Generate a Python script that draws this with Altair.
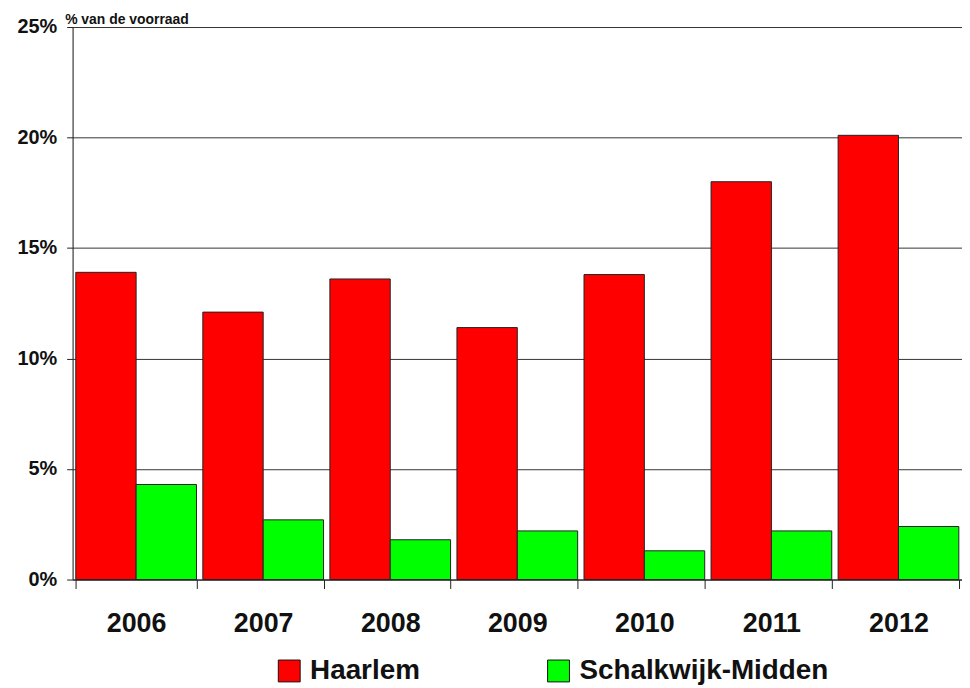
import altair as alt
import pandas as pd

years = ["2006", "2007", "2008", "2009", "2010", "2011", "2012"]
haarlem = [13.9, 12.1, 13.6, 11.4, 13.8, 18.0, 20.1]
schalkwijk = [4.3, 2.7, 1.8, 2.2, 1.3, 2.2, 2.4]
series = ["Haarlem", "Schalkwijk-Midden"]
colors = ["#FF0000", "#00FF00"]
y_ticks = [0, 5, 10, 15, 20, 25]

rows = []
for i, y in enumerate(years):
    rows.append({"jaar": y, "reeks": series[0], "waarde": haarlem[i]})
    rows.append({"jaar": y, "reeks": series[1], "waarde": schalkwijk[i]})
df = pd.DataFrame(rows)

FONT = "Liberation Sans"

chart = alt.Chart(df).mark_bar(stroke="#222222", strokeWidth=1).encode(
    x=alt.X(
        "jaar:N",
        sort=years,
        scale=alt.Scale(paddingInner=0.05, paddingOuter=0.025),
        axis=alt.Axis(
            title=None,
            labelAngle=0,
            labelFont=FONT,
            labelFontSize=27,
            labelFontWeight="bold",
            labelColor="#111111",
            labelPadding=22,
            tickBand="extent",
            tickSize=9,
            tickColor="#222222",
            domainColor="#222222",
            grid=False,
        ),
    ),
    xOffset=alt.XOffset("reeks:N", sort=series),
    y=alt.Y(
        "waarde:Q",
        scale=alt.Scale(domain=[0, 25], nice=False),
        axis=alt.Axis(
            values=y_ticks,
            labelExpr="datum.value + '%'",
            labelFont=FONT,
            labelFontSize=20,
            labelFontWeight="bold",
            labelColor="#111111",
            labelPadding=10,
            tickSize=6,
            tickColor="#222222",
            domainColor="#222222",
            gridColor="#333333",
            gridWidth=1,
            gridOpacity=1,
            title="% van de voorraad",
            titleAngle=0,
            titleAlign="left",
            titleBaseline="alphabetic",
            titleX=-8,
            titleY=-4,
            titleFont=FONT,
            titleFontSize=14,
            titleFontWeight="bold",
            titleColor="#111111",
        ),
    ),
    color=alt.Color(
        "reeks:N",
        sort=series,
        scale=alt.Scale(domain=series, range=colors),
        legend=alt.Legend(
            title=None,
            orient="none",
            direction="horizontal",
            legendX=204,
            legendY=634,
            symbolType="square",
            symbolSize=484,
            symbolStrokeColor="#111111",
            symbolStrokeWidth=1,
            symbolOpacity=1,
            labelFont=FONT,
            labelFontSize=28,
            labelFontWeight="bold",
            labelColor="#111111",
            labelLimit=500,
            labelOffset=7,
            columnPadding=125,
        ),
    ),
).properties(
    width=895,
    height=556,
    autosize=alt.AutoSizeParams(type="none"),
    padding={"left": 65, "top": 17, "right": 0, "bottom": 107},
).configure_view(
    fill="#FFFFA8", stroke=None
).configure(background="white")

chart.save("out.html", embed_options={"renderer": "svg", "actions": False})
